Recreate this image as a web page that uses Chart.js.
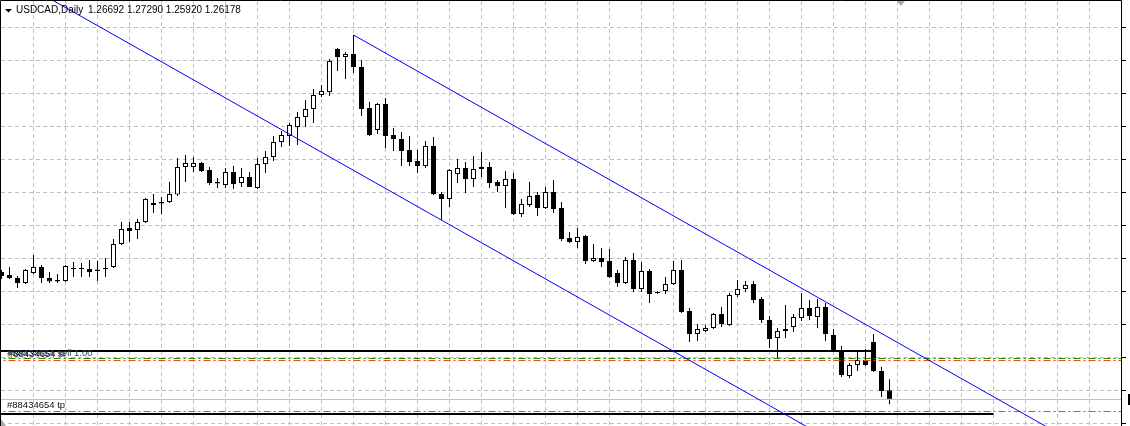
<!DOCTYPE html>
<html>
<head>
<meta charset="utf-8">
<script src="https://cdn.jsdelivr.net/npm/chart.js@4.4.0/dist/chart.umd.min.js"></script>
<style>
  html, body { margin: 0; padding: 0; background: #fff; overflow: hidden; }
  canvas { display: block; }
</style>
</head>
<body>
<canvas id="myChart" width="1130" height="426"></canvas>
<script>
var symbolTitle = 'USDCAD,Daily';

// daily candles, oldest first (the first one is cut by the left edge)
var opens = [
  1.3319, 1.33025, 1.3286, 1.32585, 1.33135, 1.33465, 1.3286, 1.3275, 1.32695, 1.3341,
  1.3341, 1.33355, 1.33245, 1.3341, 1.33465, 1.3473, 1.3561, 1.355, 1.3594, 1.36875,
  1.3704, 1.3704, 1.37453, 1.38965, 1.38965, 1.39185, 1.388, 1.3814, 1.37975, 1.3869,
  1.38085, 1.38415, 1.3781, 1.3913, 1.39515, 1.4034, 1.4067, 1.41165, 1.41715, 1.42155,
  1.42925, 1.4309, 1.45455, 1.45015, 1.4518, 1.44465, 1.4221, 1.41, 1.4243, 1.40725,
  1.40505, 1.399, 1.39295, 1.3902, 1.4012, 1.3748, 1.37205, 1.3858, 1.3891, 1.38305,
  1.38855, 1.38965, 1.3814, 1.3792, 1.38305, 1.3638, 1.36875, 1.37425, 1.3671, 1.3759,
  1.3671, 1.3506, 1.3484, 1.3517, 1.33795, 1.3396, 1.33795, 1.33135, 1.32585, 1.3385,
  1.32255, 1.33245, 1.32035, 1.32145, 1.3253, 1.333, 1.31045, 1.2978, 1.29945, 1.3011,
  1.3088, 1.30275, 1.31925, 1.32255, 1.3253, 1.31705, 1.3055, 1.2956, 1.29945, 1.30165,
  1.3066, 1.3121, 1.30715, 1.31265, 1.29725, 1.289, 1.2747, 1.28075, 1.2835, 1.2934,
  1.27745, 1.26692
];
var highs = [
  1.333, 1.33465, 1.3297, 1.33355, 1.34125, 1.33575, 1.3319, 1.3308, 1.33575, 1.3374,
  1.33685, 1.3385, 1.33795, 1.3396, 1.35005, 1.3594, 1.3594, 1.36105, 1.3726, 1.3748,
  1.37315, 1.3814, 1.3946, 1.39625, 1.39515, 1.3924, 1.38965, 1.3836, 1.3891, 1.3902,
  1.3891, 1.3869, 1.3946, 1.39845, 1.4067, 1.40945, 1.41385, 1.4199, 1.4265, 1.43255,
  1.43475, 1.44905, 1.4551, 1.4529, 1.46225, 1.4485, 1.4254, 1.42485, 1.4276, 1.4111,
  1.4089, 1.4067, 1.399, 1.40395, 1.40615, 1.3759, 1.38855, 1.39405, 1.3924, 1.3957,
  1.3979, 1.3924, 1.3825, 1.38745, 1.38635, 1.37205, 1.3814, 1.3759, 1.37865, 1.3825,
  1.3704, 1.3539, 1.3561, 1.35225, 1.3473, 1.3451, 1.34455, 1.333, 1.34015, 1.34235,
  1.3374, 1.33355, 1.32145, 1.32915, 1.33795, 1.3385, 1.3121, 1.3033, 1.30275, 1.30935,
  1.31265, 1.32035, 1.3275, 1.32695, 1.32695, 1.31815, 1.3077, 1.3011, 1.31375, 1.3088,
  1.32035, 1.3165, 1.31705, 1.31485, 1.30055, 1.2912, 1.28185, 1.289, 1.28955, 1.2978,
  1.27965, 1.27290
];
var lows = [
  1.32805, 1.32805, 1.3231, 1.3253, 1.3308, 1.32585, 1.32585, 1.32585, 1.3264, 1.32915,
  1.32915, 1.32915, 1.32695, 1.32915, 1.3341, 1.34675, 1.3484, 1.35005, 1.35885, 1.36435,
  1.3638, 1.36985, 1.3737, 1.3814, 1.3869, 1.3869, 1.37975, 1.3781, 1.3781, 1.37755,
  1.37865, 1.37865, 1.37755, 1.38635, 1.39295, 1.40065, 1.4012, 1.40175, 1.41165, 1.41385,
  1.42815, 1.4287, 1.44245, 1.43805, 1.44135, 1.4177, 1.4067, 1.4078, 1.4001, 1.39845,
  1.3902, 1.3902, 1.38635, 1.3891, 1.37425, 1.3605, 1.36765, 1.38085, 1.37535, 1.37865,
  1.38415, 1.3781, 1.3759, 1.3671, 1.36325, 1.36215, 1.36765, 1.3627, 1.36655, 1.36435,
  1.34895, 1.34785, 1.3451, 1.3363, 1.3374, 1.33465, 1.3286, 1.32365, 1.3253, 1.3209,
  1.3209, 1.31485, 1.3198, 1.3198, 1.32475, 1.30935, 1.2934, 1.29395, 1.2989, 1.30055,
  1.30165, 1.3022, 1.31815, 1.3209, 1.31485, 1.30385, 1.2901, 1.2846, 1.2956, 1.2989,
  1.30495, 1.3055, 1.3011, 1.29395, 1.2879, 1.27415, 1.2736, 1.27745, 1.2802, 1.2769,
  1.26315, 1.25920
];
var closes = [
  1.3297, 1.3286, 1.32585, 1.333, 1.33465, 1.3286, 1.32668, 1.32668, 1.3352, 1.33355,
  1.33355, 1.3319, 1.33328, 1.33355, 1.3473, 1.35555, 1.35445, 1.3594, 1.37205, 1.36985,
  1.36958, 1.3748, 1.38965, 1.39185, 1.39185, 1.38745, 1.38085, 1.38058, 1.3869, 1.3803,
  1.38415, 1.37865, 1.3913, 1.39515, 1.4034, 1.40725, 1.41275, 1.41715, 1.42155, 1.42925,
  1.43145, 1.44795, 1.45015, 1.4518, 1.44465, 1.42155, 1.40725, 1.4243, 1.4067, 1.40505,
  1.39845, 1.3924, 1.3902, 1.4012, 1.3748, 1.37205, 1.388, 1.3891, 1.38305, 1.38855,
  1.38965, 1.38085, 1.3792, 1.38305, 1.3638, 1.3693, 1.3737, 1.3671, 1.3759, 1.36655,
  1.35005, 1.3484, 1.35115, 1.33795, 1.3396, 1.3374, 1.32915, 1.32585, 1.3385, 1.32255,
  1.33245, 1.3198, 1.3209, 1.3253, 1.333, 1.3099, 1.2978, 1.30055, 1.3011, 1.3088,
  1.3033, 1.31925, 1.32255, 1.32475, 1.3165, 1.3055, 1.29505, 1.29945, 1.30055, 1.30715,
  1.3121, 1.3077, 1.31265, 1.2978, 1.28845, 1.27525, 1.28075, 1.2835, 1.28075, 1.27745,
  1.26645, 1.26178
];

// price grid (the price labels are cut off on the right)
var gridPrices = [1.46638, 1.44823, 1.43008, 1.41193, 1.39378, 1.37563, 1.35748,
                  1.33933, 1.32118, 1.30303, 1.28488, 1.26673, 1.24858];
var gridBars = [];
for (var g = 4; g <= 136; g += 4) gridBars.push(g);

// order and drawn objects
var orderTicket = '#88434654';
var sellLevel = 1.28433, slLevel = 1.28323, tpLevel = 1.25518, bidLevel = 1.26178;
var blackLevel1 = 1.28845, blackLevel2 = 1.2538;
var channelLow = [[5, 1.48483], [104, 1.23854]];
var channelHigh = [[44, 1.46225], [136, 1.23345]];

var bars = opens.map(function(o, i) { return i; });

function hLine(level, from, to) {
  return [{x: from, y: level}, {x: to, y: level}];
}
function ray(pts) {
  return pts.map(function(p) { return {x: p[0], y: p[1]}; });
}
function lineSet(data, color, width, dash) {
  return {
    type: 'line', data: data, borderColor: color, borderWidth: width,
    borderDash: dash || [], pointRadius: 0, fill: false, tension: 0, order: 0
  };
}

var overlayPlugin = {
  id: 'mtOverlay',
  afterDatasetsDraw: function(chart) {
    var ctx = chart.ctx, area = chart.chartArea, yScale = chart.scales.y;
    ctx.save();

    // frame + price scale ticks
    ctx.strokeStyle = '#000';
    ctx.lineWidth = 1;
    ctx.beginPath();
    ctx.moveTo(0.5, area.bottom);
    ctx.lineTo(0.5, 0.5);
    ctx.lineTo(area.right + 0.5, 0.5);
    ctx.lineTo(area.right + 0.5, area.bottom);
    gridPrices.forEach(function(p) {
      var y = Math.round(yScale.getPixelForValue(p)) + 0.5;
      ctx.moveTo(area.right, y);
      ctx.lineTo(area.right + 5, y);
    });
    ctx.stroke();

    // bid label edge
    var by = yScale.getPixelForValue(bidLevel);
    ctx.fillStyle = '#000';
    ctx.fillRect(area.right + 7, Math.round(by) - 5, 3, 11);

    // header
    ctx.beginPath();
    ctx.moveTo(5, 9); ctx.lineTo(12, 9); ctx.lineTo(8.5, 12.5); ctx.closePath();
    ctx.fill();
    ctx.font = '10px "Liberation Sans", Arial, sans-serif';
    ctx.textBaseline = 'alphabetic';
    ctx.fillText(symbolTitle, 16, 13);
    var last = opens.length - 1;
    var ohlc = [opens[last], highs[last], lows[last], closes[last]].map(function(v) { return v.toFixed(5); });
    ctx.fillText(ohlc.join(' '), 88, 13);

    // order labels
    ctx.font = '9.5px "Liberation Sans", Arial, sans-serif';
    ctx.fillStyle = '#34456a';
    ctx.fillText(orderTicket + ' sell 1.00', 7, yScale.getPixelForValue(sellLevel) - 2.5);
    ctx.fillStyle = '#111';
    ctx.fillText(orderTicket + ' sl', 8, yScale.getPixelForValue(slLevel) - 3.5);
    ctx.fillText(orderTicket + ' tp', 7, yScale.getPixelForValue(tpLevel) - 3);

    // little grey markers
    ctx.fillStyle = '#a8a8a8';
    ctx.beginPath();
    ctx.moveTo(897, 1); ctx.lineTo(905, 1); ctx.lineTo(901, 6); ctx.closePath();
    ctx.fill();
    ctx.beginPath();
    ctx.moveTo(1, 419); ctx.lineTo(1, 426); ctx.lineTo(6, 426); ctx.closePath();
    ctx.fill();

    ctx.restore();
  }
};

function renderChart() {
  var ctx = document.getElementById('myChart').getContext('2d');
  var myChart = new Chart(ctx, {
    type: 'bar',
    data: {
      datasets: [
        lineSet(ray(channelLow), '#0000ff', 1),
        lineSet(ray(channelHigh), '#0000ff', 1),
        lineSet(hLine(blackLevel1, -1, 109), '#000', 2),
        lineSet(hLine(blackLevel2, -1, 124), '#000', 2),
        lineSet(hLine(bidLevel, -1, 141), '#c0c0c0', 1),
        lineSet(hLine(sellLevel, -1, 141), '#1a8a1a', 1, [7, 3, 2, 3]),
        lineSet(hLine(slLevel, -1, 141), '#ff4500', 1, [7, 3, 2, 3]),
        lineSet(hLine(tpLevel, -1, 141), '#ff4500', 1, [7, 3, 2, 3]),
        {
          // candle bodies
          type: 'bar',
          data: bars.map(function(i) { return {x: i, y: [opens[i], closes[i]]}; }),
          backgroundColor: bars.map(function(i) { return closes[i] >= opens[i] ? '#fff' : '#000'; }),
          borderColor: '#000',
          borderWidth: 1,
          borderSkipped: false,
          barThickness: 5,
          maxBarThickness: 5,
          inflateAmount: 0,
          grouped: false,
          order: 1
        },
        {
          // wicks
          type: 'bar',
          data: bars.map(function(i) { return {x: i, y: [lows[i], highs[i]]}; }),
          backgroundColor: '#000',
          borderWidth: 0,
          barThickness: 1,
          maxBarThickness: 1,
          inflateAmount: 0,
          grouped: false,
          order: 2
        }
      ]
    },
    options: {
      responsive: false,
      animation: false,
      devicePixelRatio: 1,
      layout: { autoPadding: false, padding: { left: 1, top: 1, right: 9, bottom: 0 } },
      plugins: { legend: { display: false }, tooltip: { enabled: false } },
      events: [],
      scales: {
        x: {
          type: 'linear',
          offset: false,
          min: -0.0625,
          max: 139.9375,
          ticks: { display: false },
          grid: { color: '#c0c0c0', lineWidth: 1, drawTicks: false, offset: false },
          border: { display: false, dash: [4, 3] },
          afterBuildTicks: function(axis) {
            axis.ticks = gridBars.map(function(v) { return {value: v}; });
          }
        },
        y: {
          type: 'linear',
          min: 1.2472,
          max: 1.48095,
          ticks: { display: false },
          grid: { color: '#c0c0c0', lineWidth: 1, drawTicks: false },
          border: { display: false, dash: [4, 3] },
          afterBuildTicks: function(axis) {
            axis.ticks = gridPrices.map(function(v) { return {value: v}; });
          }
        }
      }
    },
    plugins: [overlayPlugin]
  });
}

renderChart();
</script>
</body>
</html>
